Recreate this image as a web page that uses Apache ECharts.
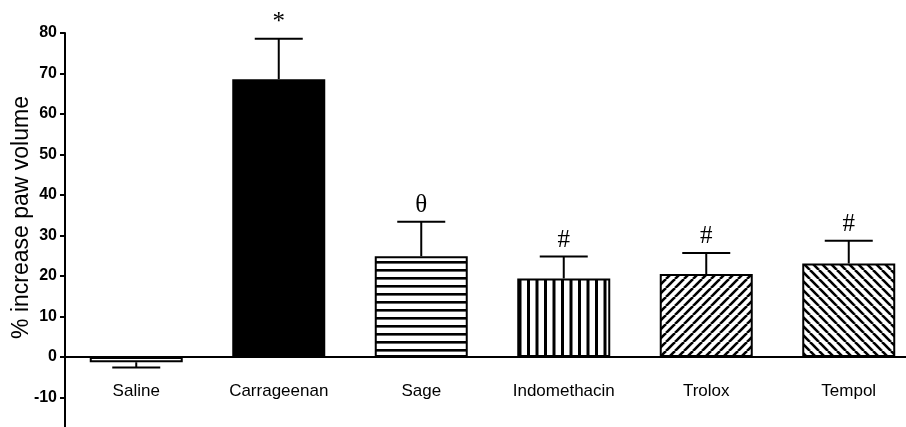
<!DOCTYPE html>
<html>
<head>
<meta charset="utf-8">
<script src="https://cdn.jsdelivr.net/npm/echarts@6/dist/echarts.min.js"></script>
<style>
  html, body { margin: 0; padding: 0; background: #fff; overflow: hidden; }
  /* the plot runs past the right and bottom edges of the page */
  #chart { width: 920px; height: 438px; }
</style>
</head>
<body>
<div id="chart"></div>
<script>
// Paw oedema: % increase in paw volume per treatment group (mean + SEM)
const groups = ['Saline', 'Carrageenan', 'Sage', 'Indomethacin', 'Trolox', 'Tempol'];
const meanIncrease = [-1.3, 68.6, 24.9, 19.4, 20.5, 23.1];
const semIncrease = [1.3, 10.0, 8.5, 5.4, 5.2, 5.6];
const significance = ['', '*', 'θ', '#', '#', '#'];
const yTicks = [-20, 80, 10]; // min, max, interval

// Fill patterns for the hatched bars
function tile(w, h, draw) {
  const c = document.createElement('canvas');
  c.width = w; c.height = h;
  const ctx = c.getContext('2d');
  ctx.fillStyle = '#fff';
  ctx.fillRect(0, 0, w, h);
  ctx.fillStyle = '#000';
  ctx.strokeStyle = '#000';
  draw(ctx, w, h);
  return { image: c, repeat: 'repeat' };
}
const horizontal = tile(8, 8, (ctx, w) => { ctx.fillRect(0, 5, w, 2.6); });
const vertical = tile(17, 8, (ctx, w, h) => { ctx.fillRect(0, 0, 3, h); ctx.fillRect(8.5, 0, 3, h); });
const forward = tile(9, 9, (ctx, s) => {
  ctx.lineWidth = 2.6;
  for (let k = -1; k <= 1; k++) { ctx.beginPath(); ctx.moveTo(k * s, s); ctx.lineTo(k * s + s, 0); ctx.stroke(); }
});
const backward = tile(9, 9, (ctx, s) => {
  ctx.lineWidth = 2.6;
  for (let k = -1; k <= 1; k++) { ctx.beginPath(); ctx.moveTo(k * s, 0); ctx.lineTo(k * s + s, s); ctx.stroke(); }
});
const fills = ['#fff', '#000', horizontal, vertical, forward, backward];

const chart = echarts.init(document.getElementById('chart'), null, { renderer: 'canvas' });

chart.setOption({
  animation: false,
  backgroundColor: '#fff',
  grid: { left: 65, top: 33, right: 0, bottom: 0, containLabel: false, outerBoundsMode: 'none' },
  xAxis: {
    type: 'category',
    data: groups,
    axisLine: { onZero: true, lineStyle: { color: '#000', width: 2 } },
    axisTick: { show: false },
    axisLabel: { color: '#000', fontFamily: 'Liberation Sans', fontSize: 17, margin: -55 }
  },
  yAxis: {
    type: 'value',
    min: yTicks[0], max: yTicks[1], interval: yTicks[2],
    name: '% increase paw volume',
    nameLocation: 'middle',
    nameGap: 32,
    nameRotate: 90,
    nameMoveOverlap: false,
    nameTextStyle: { color: '#000', fontFamily: 'Liberation Sans', fontSize: 23, padding: [0, 0, 0, 36] },
    axisLine: { show: true, lineStyle: { color: '#000', width: 2 } },
    axisTick: { show: true, length: 5, lineStyle: { color: '#000', width: 2 } },
    axisLabel: {
      color: '#000', fontFamily: 'Liberation Sans', fontWeight: 'bold', fontSize: 16, margin: 8,
      formatter: v => (v === yTicks[0] ? '' : String(v))
    },
    splitLine: { show: false }
  },
  series: [
    {
      type: 'bar',
      barWidth: 93,
      data: meanIncrease.map((v, i) => ({
        value: v,
        itemStyle: { color: fills[i], borderColor: '#000', borderWidth: 2 }
      }))
    },
    {
      type: 'custom',
      z: 3,
      data: meanIncrease.map((v, i) => [i, v, semIncrease[i]]),
      renderItem(params, api) {
        const x = api.value(0);
        const v = api.value(1);
        const e = api.value(2);
        const mark = significance[params.dataIndex];
        const dir = v < 0 ? -1 : 1;
        const base = api.coord([x, v]);
        const end = api.coord([x, v + dir * e]);
        const hw = 24;
        const stroke = { stroke: '#000', lineWidth: 2 };
        const children = [
          { type: 'line', shape: { x1: base[0], y1: base[1], x2: end[0], y2: end[1] }, style: stroke },
          { type: 'line', shape: { x1: end[0] - hw, y1: end[1], x2: end[0] + hw, y2: end[1] }, style: stroke }
        ];
        if (mark) {
          children.push({
            type: 'text',
            style: {
              text: mark, x: end[0], y: end[1] - 4,
              align: 'center', verticalAlign: 'bottom',
              font: '25px "Liberation Serif"', fill: '#000'
            }
          });
        }
        return { type: 'group', children };
      }
    }
  ]
});
</script>
</body>
</html>
